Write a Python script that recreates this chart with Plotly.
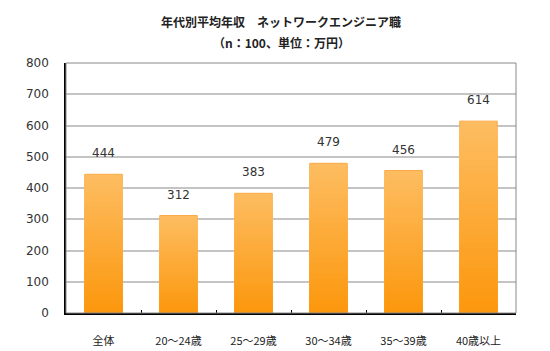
import plotly.graph_objects as go

categories = ["全体", "20～24歳", "25～29歳", "30～34歳", "35～39歳", "40歳以上"]
values = [444, 312, 383, 479, 456, 614]
y_ticks = [0, 100, 200, 300, 400, 500, 600, 700, 800]

title_line1 = "年代別平均年収　ネットワークエンジニア職"
title_line2 = "（n：100、単位：万円）"

top_rgb = (253, 188, 96)
bot_rgb = (252, 152, 14)
N = 30

fig = go.Figure()
for k in range(N):
    f = 1 - k / N
    t = k / (N - 1)
    c = tuple(round(top_rgb[i] + (bot_rgb[i] - top_rgb[i]) * t) for i in range(3))
    fig.add_trace(go.Bar(
        x=categories, y=[v * f for v in values],
        marker=dict(color="rgb(%d,%d,%d)" % c,
                    line=dict(width=1, color="rgb(250,170,70)") if k == 0 else dict(width=0)),
        width=0.5, hoverinfo="skip", showlegend=False,
    ))

for c, v in zip(categories, values):
    fig.add_annotation(x=c, y=v, text=str(v), showarrow=False, yshift=21,
                       font=dict(family="DejaVu Sans", size=12, color="#333333"))

fig.add_annotation(xref="paper", yref="paper", x=0.478, y=(313 - 21) / 250, yanchor="middle",
                   text="<b>" + title_line1 + "</b>",
                   showarrow=False, font=dict(family="Noto Sans CJK JP", size=12, color="#222222"))
fig.add_annotation(xref="paper", yref="paper", x=0.478, y=(313 - 43) / 250, yanchor="middle",
                   text="<b>" + title_line2 + "</b>",
                   showarrow=False, font=dict(family="Noto Sans CJK JP", size=12, color="#222222"))

fig.update_layout(
    barmode="overlay",
    width=550, height=351,
    margin=dict(l=66, r=34, t=63, b=38, autoexpand=False),
    paper_bgcolor="white", plot_bgcolor="white",
    shapes=[dict(type="rect", xref="paper", yref="paper", x0=0, x1=1, y0=0, y1=1,
                 line=dict(color="#888888", width=1), layer="above")],
)
fig.update_xaxes(showline=True, linecolor="black", linewidth=2, mirror=False,
                 ticks="inside", tickson="boundaries", ticklen=3, tickcolor="black",
                 automargin=False,
                 tickfont=dict(family="Noto Sans CJK JP", size=11, color="#222222"),
                 ticklabelstandoff=17)
fig.update_yaxes(range=[0, 800], tickvals=y_ticks, showline=True, linecolor="black", linewidth=1.5,
                 automargin=False,
                 showgrid=True, gridcolor="#C4C4C4", gridwidth=1.5, ticks="",
                 tickfont=dict(family="DejaVu Sans", size=12, color="#333333"),
                 ticklabelstandoff=13, zeroline=False)

fig.write_html("out.html")
